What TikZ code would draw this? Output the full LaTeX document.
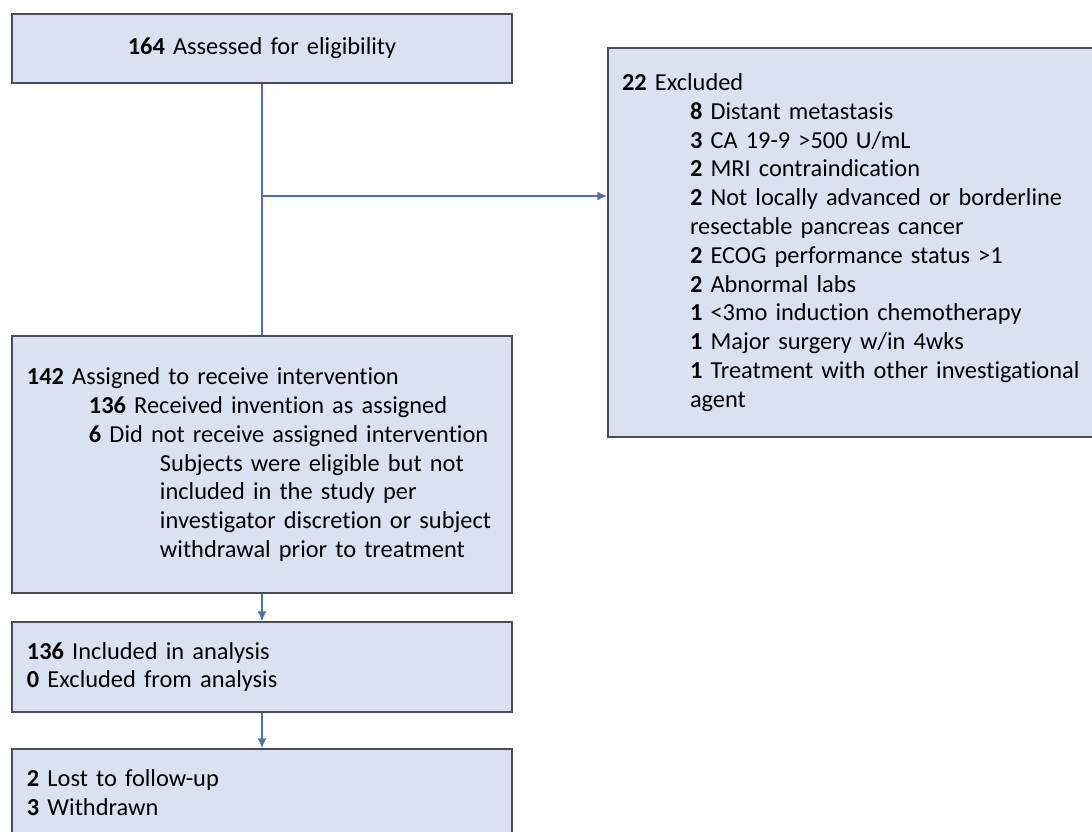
\documentclass[tikz,border=0pt]{standalone}
\usepackage{fontspec}
\setmainfont{Carlito}[Ligatures={NoCommon}]
\usetikzlibrary{arrows.meta,calc}
\definecolor{boxfill}{RGB}{218,225,241}
\definecolor{boxline}{RGB}{72,76,86}
\definecolor{flowline}{RGB}{78,112,178}
\tikzstyle{block} = [rectangle, draw=boxline, line width=1.5pt, fill=boxfill,
    inner xsep=15pt, inner ysep=0pt, align=left]
\tikzstyle{line} = [draw=flowline, line width=1.5pt, -{Latex[length=10pt,width=9pt]}]
\newcommand{\cnt}[1]{\textbf{#1}}
\newcommand{\indA}{\hspace*{62pt}}
\newcommand{\indB}{\hspace*{133pt}}
\newcommand{\indC}{\hspace*{68pt}}

\begin{document}
\begin{tikzpicture}[x=1pt, y=-1pt, font=\fontsize{24.4}{28.8}\selectfont]
\useasboundingbox (0,0) rectangle (1092,832);
\clip (0,0) rectangle (1092,832);
%% Place nodes
\node [block, align=center, minimum width=500pt, minimum height=69pt, text width=470pt]
    (assessed) at (262,48.5) {\cnt{164} Assessed for eligibility};
\node [block, minimum width=500pt, minimum height=257pt, text width=470pt]
    (assigned) at (262,464.5) {\cnt{142} Assigned to receive intervention\\
    \indA\cnt{136} Received invention as assigned\\
    \indA\cnt{6} Did not receive assigned intervention\\
    \indB Subjects were eligible but not\\
    \indB included in the study per\\
    \indB investigator discretion or subject\\
    \indB withdrawal prior to treatment};
\node [block, inner xsep=14pt, minimum width=492pt, minimum height=389pt, text width=464pt]
    (excluded) at (854,242.5) {\cnt{22} Excluded\\
    \indC\cnt{8} Distant metastasis\\
    \indC\cnt{3} CA 19-9 >500 U/mL\\
    \indC\cnt{2} MRI contraindication\\
    \indC\cnt{2} Not locally advanced or borderline\\
    \indC resectable pancreas cancer\\
    \indC\cnt{2} ECOG performance status >1\\
    \indC\cnt{2} Abnormal labs\\
    \indC\cnt{1} <3mo induction chemotherapy\\
    \indC\cnt{1} Major surgery w/in 4wks\\
    \indC\cnt{1} Treatment with other investigational\\
    \indC agent};
\node [block, minimum width=500pt, minimum height=90pt, text width=470pt]
    (analysis) at (262,667) {\cnt{136} Included in analysis\\
    \cnt{0} Excluded from analysis};
\node [block, minimum width=500pt, minimum height=88pt, text width=470pt]
    (followup) at (262,793) {\cnt{2} Lost to follow-up\\
    \cnt{3} Withdrawn};
\coordinate (branch) at (262,196);

%% Draw lines between boxes
\draw [draw=flowline, line width=1.5pt] (assessed) -- (assigned);
\path [line] (branch) -- (branch -| excluded.west);
\path [line] (assigned) -- (analysis);
\path [line] (analysis) -- (followup);
\end{tikzpicture}
\end{document}
